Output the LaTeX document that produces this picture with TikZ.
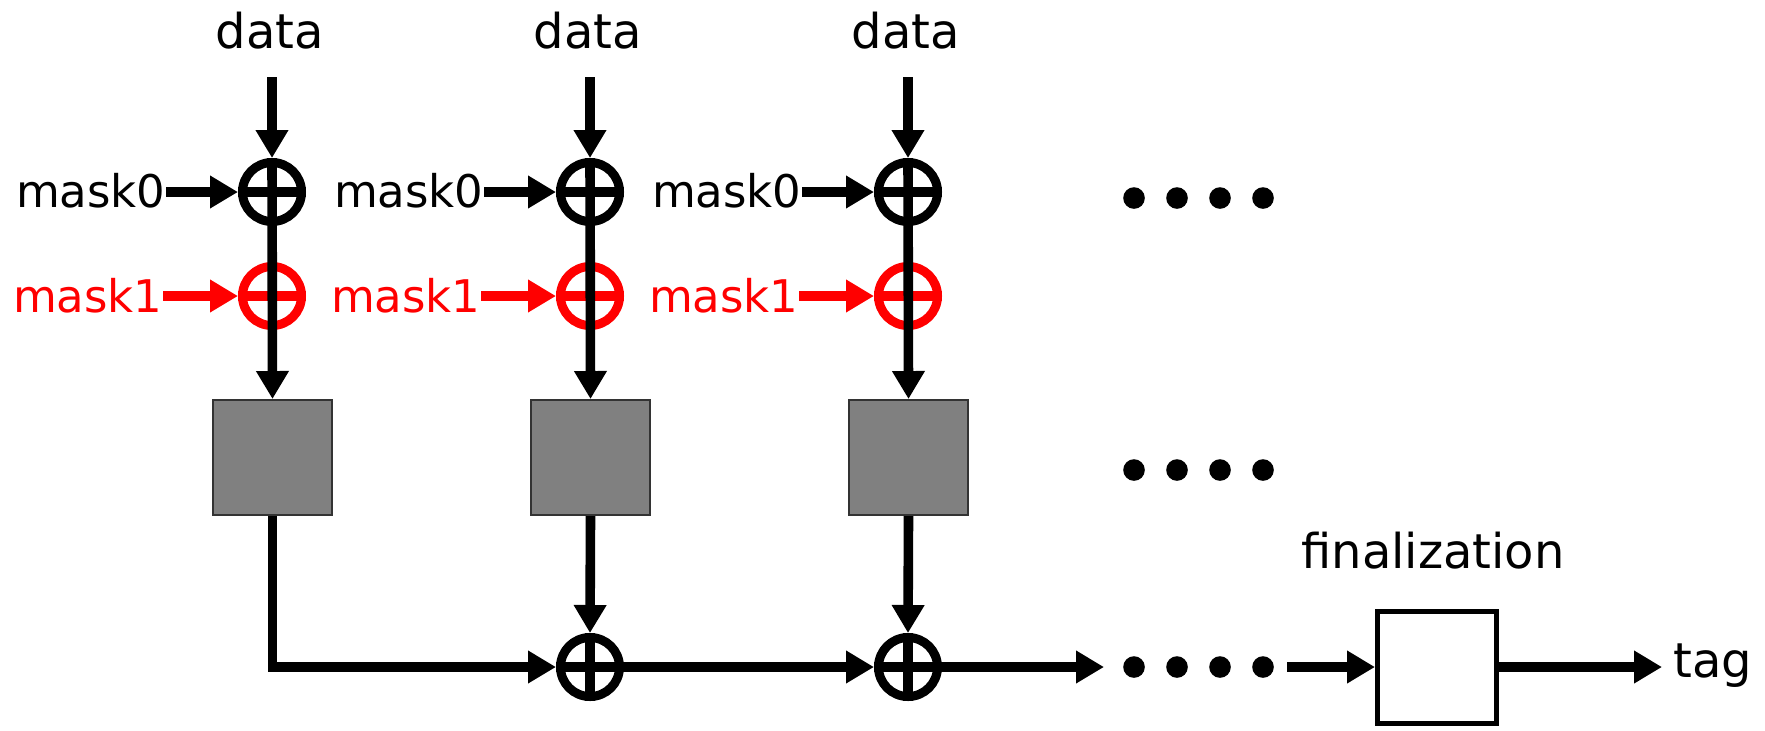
\documentclass[tikz,border=0pt]{standalone}
\usepackage{fontspec}
\setmainfont{DejaVu Sans}
\usetikzlibrary{arrows.meta}
\tikzset{
  conn/.style={line width=4.8pt},
  arr/.style={conn, -{Triangle[length=14pt,width=15.5pt]}},
  xorc/.style={circle, draw, line width=4.5pt, minimum size=29.5pt, inner sep=0pt},
  gbox/.style={rectangle, draw=black!80, fill=black!50, line width=1pt, minimum width=59.5pt, minimum height=57.5pt, inner sep=0pt},
  fbox/.style={rectangle, draw, line width=2.5pt, minimum width=59.5pt, minimum height=56pt, inner sep=0pt},
  dotn/.style={circle, fill, inner sep=0pt, minimum size=10.8pt},
  big/.style={font=\fontsize{24}{28}\selectfont, inner sep=0pt},
  mid/.style={font=\fontsize{22.5}{26}\selectfont, inner sep=0pt},
}
\begin{document}
\begin{tikzpicture}[x=0.5pt,y=-0.5pt]
\useasboundingbox (0,0) rectangle (1765,730);
\foreach \i/\ox in {1/0,2/318,3/636}{
  \node[big, anchor=base] (d\i) at (270+\ox,48) {data};
  \coordinate (ds\i) at (272+\ox,77);
  \node[xorc] (x\i) at (272+\ox,192) {};
  \node[mid, anchor=base east] (ma\i) at (166+\ox,207) {mask0};
  \node[mid, anchor=base east, text=red] (mb\i) at (163+\ox,312) {mask1};
  \node[xorc, draw=red] (r\i) at (272+\ox,296) {};
  \node[gbox] (b\i) at (272.5+\ox,457.5) {};
  \draw[conn] (x\i.west) -- (x\i.east);
  \draw[conn, red] (r\i.west) -- (r\i.east);
  \draw[arr] (ds\i) -- (x\i.north);
  \draw[arr] (ma\i.east |- x\i.west) -- (x\i.west);
  \draw[arr, red] (mb\i.east |- r\i.west) -- (r\i.west);
  \draw[arr] (x\i.north) -- (b\i.north);
}
\node[xorc] (y2) at (590,667) {};
\node[xorc] (y3) at (908,667) {};
\draw[conn] (y2.north) -- (y2.south) (y2.west) -- (y2.east);
\draw[conn] (y3.north) -- (y3.south) (y3.west) -- (y3.east);
\draw[arr] (b2.south) -- (y2.north);
\draw[arr] (b3.south) -- (y3.north);
\draw[arr] (b1.south) |- (y2.west);
\draw[arr] (y2.east) -- (y3.west);
\coordinate (e3) at (1104,667);
\draw[arr] (y3.east) -- (e3);
\foreach \j/\xx in {1/1134,2/1177,3/1220,4/1263}{
  \node[dotn] (ta\j) at (\xx,198) {};
  \node[dotn] (tb\j) at (\xx,470) {};
  \node[dotn] (tc\j) at (\xx,667) {};
}
\coordinate (fs) at (1287,667);
\node[fbox] (fin) at (1437,667) {};
\draw[arr] (fs) -- (fin.west);
\node[big, anchor=base] (finl) at (1433,568) {finalization};
\node[big, anchor=base west] (tag) at (1673,677) {tag};
\coordinate (te) at (1662,667);
\draw[arr] (fin.east) -- (te);
\end{tikzpicture}
\end{document}
